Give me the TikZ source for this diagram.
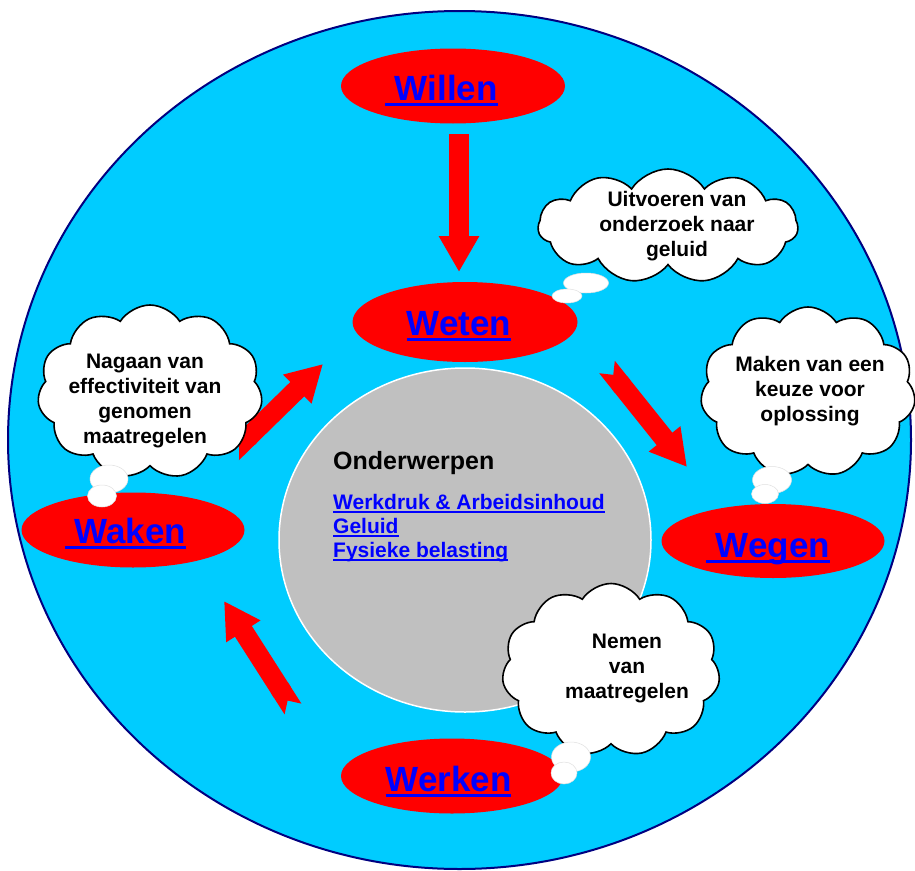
\documentclass[tikz,border=0pt]{standalone}
\usepackage{fontspec}
\setmainfont{Liberation Sans}
\usetikzlibrary{shapes.geometric,shapes.symbols,arrows.meta}

\definecolor{sky}{HTML}{00CCFF}
\definecolor{navy}{HTML}{000080}
\definecolor{stone}{HTML}{C0C0C0}
\definecolor{linkblue}{HTML}{0000FF}

% underlined text, rule sitting just below the baseline
\newcommand{\ultext}[1]{\setbox0=\hbox{#1}\rlap{\rule[-0.17em]{\wd0}{0.085em}}\box0}

\begin{document}
\begin{tikzpicture}[x=1pt,y=-1pt,
  oval/.style={ellipse, fill=red, inner sep=0pt},
  phase/.style={font=\fontsize{35}{40}\selectfont\bfseries, text=linkblue, inner sep=0pt, anchor=base},
  puff/.style={cloud, cloud puffs=11, cloud puff arc=115, cloud ignores aspect,
    draw=black, line width=1.6pt, fill=white, inner sep=0pt},
  thought/.style={font=\fontsize{21}{25}\selectfont\bfseries, align=center, inner sep=0pt},
  bubble/.style={ellipse, fill=white, draw=black!12, line width=0.5pt, inner sep=0pt},
  flow/.style={draw=red, line width=20pt, -{Triangle[length=36pt,width=38pt]}},
  notched/.style={flow, {Triangle Cap[reversed]}-{Triangle[length=36pt,width=38pt]}},
  topic/.style={font=\fontsize{21}{24}\selectfont\bfseries, text=linkblue, anchor=base west, inner sep=0pt}
]
\useasboundingbox (0,0) rectangle (915,870);

% background disc and central hub
\node[ellipse, fill=sky, draw=navy, line width=2pt, inner sep=0pt,
      minimum width=903pt, minimum height=858pt] (field) at (459.5,440) {};
\node[ellipse, fill=stone, draw=white, line width=1.5pt, inner sep=0pt,
      minimum width=372pt, minimum height=344pt] (hub) at (465,540) {};

% block arrows of the cycle
\coordinate (f1s) at (459,134);   \coordinate (f1e) at (459,272);
\coordinate (f2s) at (607,367);   \coordinate (f2e) at (687,467);
\coordinate (f3s) at (232,453);   \coordinate (f3e) at (323,364);
\coordinate (f4s) at (293,709);   \coordinate (f4e) at (224,601);
\draw[flow] (f1s) -- (f1e);
\draw[notched] (f2s) -- (f2e);
\draw[notched] (f3s) -- (f3e);
\draw[notched] (f4s) -- (f4e);

% the five phases
\node[oval, minimum width=224pt, minimum height=75pt] (willen) at (453,86) {};
\node[oval, minimum width=225pt, minimum height=80pt] (weten)  at (465,322) {};
\node[oval, minimum width=223pt, minimum height=74pt] (wegen)  at (773,541) {};
\node[oval, minimum width=223pt, minimum height=75pt] (waken)  at (133,530) {};
\node[oval, minimum width=222pt, minimum height=75pt] (werken) at (452,776) {};

\node[phase] (willenlabel) at (441.5,100) {\ultext{\ Willen}};
\node[phase] (wetenlabel)  at (459,335)   {\ultext{Weten}};
\node[phase] (wegenlabel)  at (768,557)   {\ultext{\ Wegen}};
\node[phase] (wakenlabel)  at (125.5,543) {\ultext{\ Waken}};
\node[phase] (werkenlabel) at (448.5,791) {\ultext{Werken}};

% topics in the hub
\node[font=\fontsize{25}{30}\selectfont\bfseries, anchor=base west, inner sep=0pt]
  (topichead) at (333,469) {Onderwerpen};
\node[topic] (topicone)   at (333,509) {\ultext{Werkdruk \& Arbeidsinhoud}};
\node[topic] (topictwo)   at (333,533) {\ultext{Geluid}};
\node[topic] (topicthree) at (333,557) {\ultext{Fysieke belasting}};

% thought clouds
\node[puff, minimum width=260pt, minimum height=114pt] (c1) at (668,226) {};
\node[puff, minimum width=225pt, minimum height=174pt] (c2) at (150,392) {};
\node[puff, minimum width=215pt, minimum height=170pt] (c3) at (808,392) {};
\node[puff, minimum width=218pt, minimum height=173pt] (c4) at (611,670) {};

\node[thought] (t1) at (677,226) {Uitvoeren van\\onderzoek naar\\geluid};
\node[thought] (t2) at (145,401) {Nagaan van\\effectiviteit van\\genomen\\maatregelen};
\node[thought] (t3) at (810,391) {Maken van een\\keuze voor\\oplossing};
\node[thought] (t4) at (627,668) {Nemen\\van\\maatregelen};

% small thought bubbles
\node[bubble, minimum width=45pt, minimum height=20pt] (b1a) at (586,283) {};
\node[bubble, minimum width=30pt, minimum height=14pt] (b1b) at (567,296) {};
\node[bubble, minimum width=38pt, minimum height=28pt] (b2a) at (109,479) {};
\node[bubble, minimum width=29pt, minimum height=22pt] (b2b) at (102,496) {};
\node[bubble, minimum width=39pt, minimum height=27pt] (b3a) at (772,480) {};
\node[bubble, minimum width=27pt, minimum height=19pt] (b3b) at (765,494) {};
\node[bubble, minimum width=39pt, minimum height=30pt] (b4a) at (571,757) {};
\node[bubble, minimum width=26pt, minimum height=22pt] (b4b) at (564,773) {};
\end{tikzpicture}
\end{document}
